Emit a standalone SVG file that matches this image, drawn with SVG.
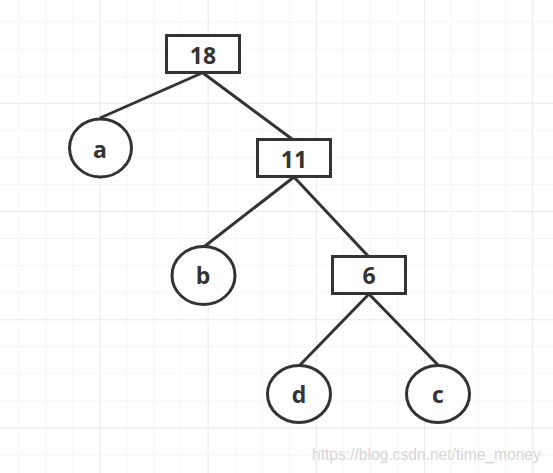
<svg xmlns="http://www.w3.org/2000/svg" width="553" height="473" viewBox="0 0 553 473">
<defs>
<pattern id="grid" x="-8.8" y="-5.4" width="27.05" height="27.05" patternUnits="userSpaceOnUse">
<path d="M0 0 H27.05 M0 0 V27.05" fill="none" stroke="#ebebeb" stroke-width="1"/>
</pattern>
<pattern id="major" x="-8.8" y="-5.4" width="108.2" height="108.2" patternUnits="userSpaceOnUse">
<path d="M0 0 H108.2 M0 0 V108.2" fill="none" stroke="#e2e2e2" stroke-width="1"/>
</pattern>
</defs>
<style>
.box{fill:#fff;stroke:#333;stroke-width:3}
.ell{fill:#fff;stroke:#333;stroke-width:3}
.lbl{font-family:"Open Sans","Noto Sans",sans-serif;font-weight:bold;font-size:23px;fill:#333;text-anchor:middle}
.edge{stroke:#333;stroke-width:3;fill:none}
.wm{font-family:"Liberation Sans",Arial,sans-serif;font-size:15.6px;fill:#d6d6d6}
</style>
<rect width="553" height="473" fill="#fff"/>
<rect width="553" height="473" fill="url(#grid)"/>
<rect width="553" height="473" fill="url(#major)"/>
<g id="edges">
<line class="edge" x1="202" y1="73" x2="100" y2="118"/>
<line class="edge" x1="203" y1="73" x2="292" y2="139"/>
<line class="edge" x1="294" y1="177" x2="205" y2="246"/>
<line class="edge" x1="294" y1="177" x2="368" y2="256"/>
<line class="edge" x1="369" y1="294" x2="300" y2="365"/>
<line class="edge" x1="369" y1="294" x2="438" y2="365"/>
</g>
<g id="n18"><rect class="box" x="166.5" y="35.5" width="73" height="37"/><text class="lbl" x="203" y="64">18</text></g>
<g id="n11"><rect class="box" x="257.5" y="139.5" width="73" height="37"/><text class="lbl" x="294" y="168">11</text></g>
<g id="n6"><rect class="box" x="332.5" y="256.5" width="73" height="37"/><text class="lbl" x="369" y="284">6</text></g>
<g id="na"><ellipse class="ell" cx="100.5" cy="148" rx="31" ry="29"/><text class="lbl" x="100" y="158">a</text></g>
<g id="nb"><ellipse class="ell" cx="203.5" cy="275.5" rx="31.5" ry="29"/><text class="lbl" x="203" y="284">b</text></g>
<g id="nd"><ellipse class="ell" cx="299" cy="394" rx="31.5" ry="28.5"/><text class="lbl" x="299" y="403">d</text></g>
<g id="nc"><ellipse class="ell" cx="438" cy="394" rx="31.5" ry="28.5"/><text class="lbl" x="438" y="403">c</text></g>
<text class="wm" x="312" y="460">https://blog.csdn.net/time_money</text>
</svg>
